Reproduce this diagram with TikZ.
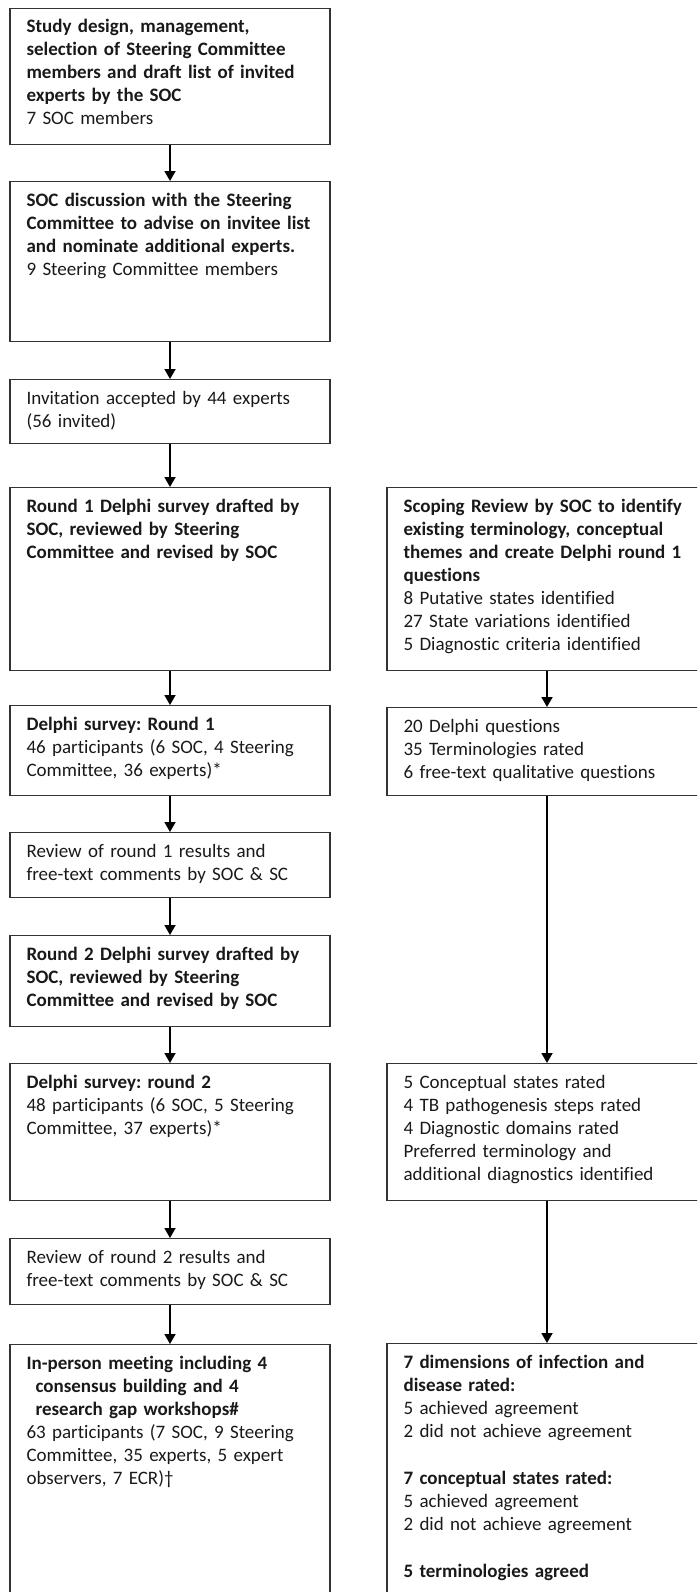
\documentclass[tikz,border=0pt]{standalone}
\usepackage{fontspec}
\setmainfont{Carlito}[Ligatures=NoCommon]
\usetikzlibrary{arrows.meta,positioning}

\begin{document}
\frenchspacing
\begin{tikzpicture}[x=1pt,y=-1pt,
  font=\fontsize{19}{23}\selectfont,
  stagebox/.style={draw=black!80,line width=1.3pt,minimum width=320pt,anchor=north,inner sep=0pt},
  stagetext/.style={anchor=base west,text width=300pt,align=left,inner sep=0pt,text=black!90},
  flow/.style={line width=1.8pt,-{Triangle[width=11pt,length=10pt]}}]

\useasboundingbox (0,0) rectangle (697,1592);
\clip (0,0) rectangle (697,1592);

% left column
\node[stagebox,minimum height=136pt] (design) at (170,8) {};
\node[stagebox,minimum height=160pt] (invite) at (170,181) {};
\node[stagebox,minimum height=64pt] (accepted) at (170,379) {};
\node[stagebox,minimum height=183pt] (draftone) at (170,487) {};
\node[stagebox,minimum height=90pt] (roundone) at (170,705) {};
\node[stagebox,minimum height=65pt] (reviewone) at (170,832) {};
\node[stagebox,minimum height=91pt] (drafttwo) at (170,935) {};
\node[stagebox,minimum height=137pt] (roundtwo) at (170,1063) {};
\node[stagebox,minimum height=66pt] (reviewtwo) at (170,1238) {};
\node[stagebox,minimum height=290pt] (meeting) at (170,1344) {};

% right column
\node[stagebox,minimum height=183pt] (scoping) at (547,487) {};
\node[stagebox,minimum height=88pt] (questions) at (547,707) {};
\node[stagebox,minimum height=137pt] (rated) at (547,1063) {};
\node[stagebox,minimum height=290pt] (agreed) at (547,1343) {};

% texts
\node[stagetext] (design-txt) at ([xshift=17pt,yshift=-25pt]design.north west)
  {\textbf{Study design, management,\\ selection of Steering Committee\\ members and draft list of invited\\ experts by the SOC}\\ 7 SOC members};
\node[stagetext] (invite-txt) at ([xshift=17pt,yshift=-25pt]invite.north west)
  {\textbf{SOC discussion with the Steering\\ Committee to advise on invitee list\\ and nominate additional experts.}\\ 9 Steering Committee members};
\node[stagetext] (accepted-txt) at ([xshift=17pt,yshift=-25pt]accepted.north west)
  {Invitation accepted by 44 experts\\ (56 invited)};
\node[stagetext] (draftone-txt) at ([xshift=17pt,yshift=-25pt]draftone.north west)
  {\textbf{Round 1 Delphi survey drafted by\\ SOC, reviewed by Steering\\ Committee and revised by SOC}};
\node[stagetext] (roundone-txt) at ([xshift=17pt,yshift=-25pt]roundone.north west)
  {\textbf{Delphi survey: Round 1}\\ 46 participants (6 SOC, 4 Steering\\ Committee, 36 experts)*};
\node[stagetext] (reviewone-txt) at ([xshift=17pt,yshift=-25pt]reviewone.north west)
  {Review of round 1 results and\\ free-text comments by SOC \& SC};
\node[stagetext] (drafttwo-txt) at ([xshift=17pt,yshift=-25pt]drafttwo.north west)
  {\textbf{Round 2 Delphi survey drafted by\\ SOC, reviewed by Steering\\ Committee and revised by SOC}};
\node[stagetext] (roundtwo-txt) at ([xshift=17pt,yshift=-25pt]roundtwo.north west)
  {\textbf{Delphi survey: round 2}\\ 48 participants (6 SOC, 5 Steering\\ Committee, 37 experts)*};
\node[stagetext] (reviewtwo-txt) at ([xshift=17pt,yshift=-25pt]reviewtwo.north west)
  {Review of round 2 results and\\ free-text comments by SOC \& SC};
\node[stagetext] (meeting-txt) at ([xshift=17pt,yshift=-25pt]meeting.north west)
  {\textbf{In-person meeting including 4\\ \hspace*{9pt}consensus building and 4\\ \hspace*{9pt}research gap workshops\#}\\ 63 participants (7 SOC, 9 Steering\\ Committee, 35 experts, 5 expert\\ observers, 7 ECR)\textdagger};

\node[stagetext] (scoping-txt) at ([xshift=17pt,yshift=-25pt]scoping.north west)
  {\textbf{Scoping Review by SOC to identify\\ existing terminology, conceptual\\ themes and create Delphi round 1\\ questions}\\ 8 Putative states identified\\ 27 State variations identified\\ 5 Diagnostic criteria identified};
\node[stagetext] (questions-txt) at ([xshift=17pt,yshift=-25pt]questions.north west)
  {20 Delphi questions\\ 35 Terminologies rated\\ 6 free-text qualitative questions};
\node[stagetext] (rated-txt) at ([xshift=17pt,yshift=-25pt]rated.north west)
  {5 Conceptual states rated\\ 4 TB pathogenesis steps rated\\ 4 Diagnostic domains rated\\ Preferred terminology and\\ additional diagnostics identified};
\node[stagetext] (agreed-txt) at ([xshift=17pt,yshift=-25pt]agreed.north west)
  {\textbf{7 dimensions of infection and\\ disease rated:}\\ 5 achieved agreement\\ 2 did not achieve agreement\\[24pt]
   \textbf{7 conceptual states rated:}\\ 5 achieved agreement\\ 2 did not achieve agreement\\[24pt]
   \textbf{5 terminologies agreed}};

% arrows
\draw[flow] (design) -- (invite);
\draw[flow] (invite) -- (accepted);
\draw[flow] (accepted) -- (draftone);
\draw[flow] (draftone) -- (roundone);
\draw[flow] (roundone) -- (reviewone);
\draw[flow] (reviewone) -- (drafttwo);
\draw[flow] (drafttwo) -- (roundtwo);
\draw[flow] (roundtwo) -- (reviewtwo);
\draw[flow] (reviewtwo) -- (meeting);
\draw[flow] (scoping) -- (questions);
\draw[flow] (questions) -- (rated);
\draw[flow] (rated) -- (agreed);

\end{tikzpicture}
\end{document}
